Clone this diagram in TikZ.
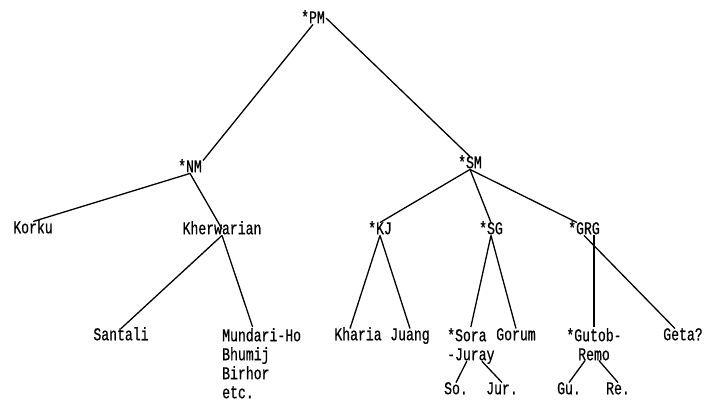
\documentclass[tikz,border=0pt]{standalone}
\usepackage{fontspec}
\usepackage{tikz}
\newfontfamily\typer[FakeStretch=0.73,FakeBold=0.6]{Liberation Mono}

\begin{document}
\begin{tikzpicture}[x=1pt,y=-1pt,
  word/.style={inner sep=1pt,font=\typer\fontsize{18}{19}\selectfont},
  lang/.style={word,text height=10.5pt,text depth=0pt},
  branch/.style={line width=1.3pt}]
\useasboundingbox (0,0) rectangle (705,401);

% Proto-languages
\node[lang] (pm) at (313,18) {*PM};
\node[lang] (nm) at (190,167) {*NM};
\node[lang] (sm) at (470,163) {*SM};
\node[lang] (kj) at (380,229) {*KJ};
\node[lang] (sg) at (491,229) {*SG};
\node[lang] (grg) at (584,229) {*GRG};

% Languages
\node[lang] (korku) at (33,228) {Korku};
\node[lang] (kherw) at (222,229) {Kherwarian};
\node[lang] (santali) at (121,335) {Santali};
\node[word,anchor=north west,align=left] (mundari) at (221,327) {Mundari-Ho\\Bhumij\\Birhor\\etc.};
\node[lang] (kharia) at (358,335) {Kharia};
\node[lang] (juang) at (410,335) {Juang};
\node[word,anchor=north west,align=left] (sora) at (446,327) {*Sora\\-Juray};
\node[lang] (gorum) at (516,335) {Gorum};
\node[word,anchor=north,align=center] (gutob) at (594,327) {*Gutob-\\Remo};
\node[lang] (geta) at (683,335) {Geta?};
\node[lang] (so) at (456,389) {So.};
\node[lang] (jur) at (502,389) {Jur.};
\node[lang] (gu) at (569,389) {Gu.};
\node[lang] (re) at (618,389) {Re.};

% Branches
\draw[branch] (pm.south) -- (nm.north east);
\draw[branch] (pm.east) -- (sm.north);
\draw[branch] (nm.south) -- (korku.north);
\draw[branch] (nm.south) -- (kherw.center);
\draw[branch] (kherw.south) -- (santali.north);
\draw[branch] (kherw.south) -- ([xshift=-9pt]mundari.north);
\draw[branch] (sm.south) -- (kj.north);
\draw[branch] (sm.south) -- (sg.north);
\draw[branch] (sm.south) -- ([xshift=-7pt]grg.north);
\draw[branch] (kj.south) -- ([xshift=-8pt]kharia.north);
\draw[branch] (kj.south) -- (juang.north);
\draw[branch] (sg.south) -- (sora.north);
\draw[branch] (sg.south) -- (gorum.north);
\draw[branch] ([xshift=-4pt,yshift=4pt]sora.south) -- (so.north);
\draw[branch] ([xshift=11pt,yshift=4pt]sora.south) -- (jur.north);
\draw[branch] (gutob.north |- grg.south) -- (gutob.north);
\draw[branch] (grg.south) -- ([xshift=-8pt]geta.north);
\draw[branch] ([xshift=-9pt,yshift=1pt]gutob.south) -- (gu.north);
\draw[branch] ([xshift=5pt,yshift=1pt]gutob.south) -- (re.north);
\end{tikzpicture}
\end{document}
